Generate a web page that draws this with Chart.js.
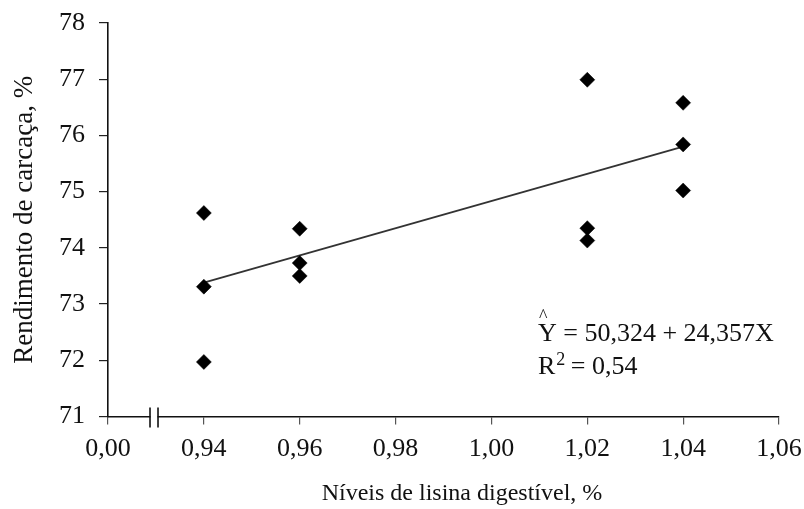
<!DOCTYPE html>
<html>
<head>
<meta charset="utf-8">
<script src="https://cdn.jsdelivr.net/npm/chart.js@4/dist/chart.umd.min.js"></script>
<style>
html,body{margin:0;padding:0;background:#fff;}
#wrap{width:804px;height:509px;position:relative;}
</style>
</head>
<body>
<div id="wrap"><canvas id="c" width="804" height="509"></canvas></div>
<script>
// ---- data ----
const xValues = [0.94, 0.94, 0.94, 0.96, 0.96, 0.96, 1.02, 1.02, 1.02, 1.04, 1.04, 1.04];
const yValues = [74.62, 73.31, 71.97, 74.34, 73.73, 73.50, 76.99, 74.35, 74.13, 76.58, 75.84, 75.02];
const fitX = [0.94, 1.04];
const fitY = [73.38, 75.80];
const xTickValues = [0.92, 0.94, 0.96, 0.98, 1.00, 1.02, 1.04, 1.06];
const xTickLabels = ['0,00', '0,94', '0,96', '0,98', '1,00', '1,02', '1,04', '1,06'];
const yTickValues = [71, 72, 73, 74, 75, 76, 77, 78];
const yTickLabels = ['71', '72', '73', '74', '75', '76', '77', '78'];
const xTitle = 'Níveis de lisina digestível, %';
const yTitle = 'Rendimento de carcaça, %';
const eqLine = 'Y = 50,324 + 24,357X';
const r2Label = 'R';
const r2Sup = '2';
const r2Rest = ' = 0,54';

const SERIF = '"Liberation Serif", "Times New Roman", serif';

const scatterData = xValues.map((x, i) => ({x: x, y: yValues[i]}));
const fitData = fitX.map((x, i) => ({x: x, y: fitY[i]}));

const annotPlugin = {
  id: 'annot',
  afterDraw(chart) {
    const ctx = chart.ctx;
    const xs = chart.scales.x;
    const ca = chart.chartArea;
    ctx.save();
    // axis break
    const p0 = xs.getPixelForValue(xTickValues[0]);
    const p1 = xs.getPixelForValue(xTickValues[1]);
    const bc = p0 + (p1 - p0) * 0.48;
    const axY = ca.bottom;
    ctx.fillStyle = '#fff';
    ctx.fillRect(bc - 3.5, axY - 3, 7, 6);
    ctx.strokeStyle = '#111';
    ctx.lineWidth = 1.6;
    ctx.beginPath();
    ctx.moveTo(bc - 4, axY - 9); ctx.lineTo(bc - 4, axY + 11);
    ctx.moveTo(bc + 4, axY - 9); ctx.lineTo(bc + 4, axY + 11);
    ctx.stroke();

    ctx.fillStyle = '#111';
    // x title
    ctx.font = '24px ' + SERIF;
    ctx.textAlign = 'center';
    ctx.textBaseline = 'alphabetic';
    ctx.fillText(xTitle, 462, 500);
    // y title
    ctx.save();
    ctx.translate(32, (ca.top + ca.bottom) / 2);
    ctx.rotate(-Math.PI / 2);
    ctx.font = '27px ' + SERIF;
    ctx.textAlign = 'center';
    ctx.fillText(yTitle, 0, 0);
    ctx.restore();
    // equation
    ctx.textAlign = 'left';
    ctx.font = '26px ' + SERIF;
    ctx.fillText(eqLine, 538, 341);
    ctx.font = '18px ' + SERIF;
    ctx.fillText('^', 539, 322);
    ctx.font = '26px ' + SERIF;
    ctx.fillText(r2Label, 538, 374);
    const wR = ctx.measureText(r2Label).width;
    ctx.font = '18px ' + SERIF;
    ctx.fillText(r2Sup, 538 + wR + 1, 365);
    const wS = ctx.measureText(r2Sup).width;
    ctx.font = '26px ' + SERIF;
    ctx.fillText(r2Rest, 538 + wR + wS, 374);
    ctx.restore();
  }
};

new Chart(document.getElementById('c'), {
  type: 'scatter',
  data: {
    datasets: [
      {
        type: 'line',
        data: fitData,
        borderColor: '#333',
        borderWidth: 1.8,
        pointRadius: 0,
        fill: false,
        order: 2
      },
      {
        type: 'scatter',
        data: scatterData,
        pointStyle: 'rectRot',
        pointRadius: 7.5,
        backgroundColor: '#000',
        borderColor: '#000',
        borderWidth: 0.5,
        order: 1
      }
    ]
  },
  options: {
    responsive: false,
    animation: false,
    devicePixelRatio: 1,
    layout: {padding: {left: 0, top: 23, right: 25, bottom: 0}},
    plugins: {legend: {display: false}, tooltip: {enabled: false}},
    scales: {
      x: {
        type: 'linear',
        min: xTickValues[0],
        max: xTickValues[xTickValues.length - 1],
        afterBuildTicks(scale) { scale.ticks = xTickValues.map(v => ({value: v})); },
        afterFit(scale) { scale.height = 92.5; scale.paddingLeft = 0; scale.paddingRight = 0; },
        grid: {display: true, drawOnChartArea: false, drawTicks: true, tickLength: 8, color: '#555', lineWidth: 1.2},
        border: {display: true, color: '#111', width: 1.6},
        ticks: {
          padding: 9,
          color: '#111',
          font: {family: SERIF, size: 26},
          maxRotation: 0,
          autoSkip: false,
          callback: (v, i) => xTickLabels[i]
        }
      },
      y: {
        type: 'linear',
        min: yTickValues[0],
        max: yTickValues[yTickValues.length - 1],
        afterBuildTicks(scale) { scale.ticks = yTickValues.map(v => ({value: v})); },
        afterFit(scale) { scale.width = 108; scale.paddingTop = 0; scale.paddingBottom = 0; },
        grid: {display: true, drawOnChartArea: false, drawTicks: true, tickLength: 9, color: '#222', lineWidth: 1.2},
        border: {display: true, color: '#111', width: 1.6},
        ticks: {
          padding: 14,
          color: '#111',
          font: {family: SERIF, size: 26},
          autoSkip: false,
          callback: (v, i) => yTickLabels[i]
        }
      }
    }
  },
  plugins: [annotPlugin]
});
</script>
</body>
</html>
